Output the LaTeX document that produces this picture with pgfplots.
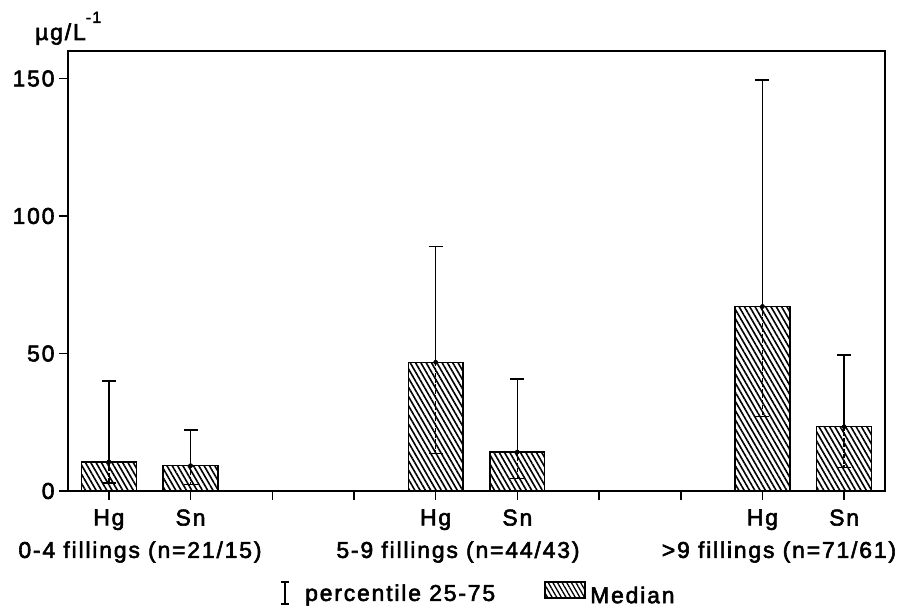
\documentclass[border=0pt]{standalone}
\usepackage{pgfplots}
\usepackage{pgfplotstable}
\pgfplotsset{compat=1.18}
\usepackage{fontspec}
\setmainfont{Liberation Sans}[FakeBold=2.5, LetterSpace=8]
\usetikzlibrary{patterns.meta}
\pgfplotstableread{
x m lo hi
0 10.6 3.0 40.0
1 9.2 2.4 22.2
4 46.8 13.7 88.9
5 14.2 4.6 40.8
8 67.1 27.1 149.4
9 23.4 8.6 49.5
}\datatable
\begin{document}
\begin{tikzpicture}
\path[use as bounding box] (-68bp,-118bp) rectangle (829bp,491bp);
\begin{axis}[
  at={(0,0)}, anchor=south west,
  scale only axis, width=817bp, height=440bp,
  xmin=-0.5, xmax=9.5, ymin=0, ymax=160,
  axis line style={line width=1.5bp},
  xtick={0,...,9}, xticklabels={Hg,Sn,,,Hg,Sn,,,Hg,Sn},
  ytick={0,50,100,150},
  tick align=outside, xtick pos=bottom, ytick pos=left,
  major tick length=9bp,
  tick style={black, line width=1.5bp},
  xticklabel style={font=\fontsize{23}{25}\selectfont, yshift=-6bp},
  yticklabel style={font=\fontsize{23}{25}\selectfont, xshift=-1bp},
  /pgf/number format/assume math mode=true,
  clip=false,
]
\addplot[ybar, bar width=0.67, draw=black, line width=1.4bp,
  pattern={Lines[angle=-60, distance=4.6bp, line width=1.6bp]}]
  table[x=x, y=m] {\datatable};
\addplot[black, only marks, mark=none,
  error bars/.cd, y dir=plus, y explicit, error mark=-,
  error bar style={black, line width=1.6bp, solid},
  error mark options={black, line width=1.6bp, mark size=7bp, rotate=90}]
  table[x=x, y=m, y error plus expr=\thisrow{hi}-\thisrow{m}] {\datatable};
\addplot[black, only marks, mark=none,
  error bars/.cd, y dir=minus, y explicit, error mark=-,
  error bar style={black, line width=1.6bp, dash pattern=on 4bp off 1.5bp},
  error mark options={black, line width=1.6bp, mark size=7bp, solid, rotate=90}]
  table[x=x, y=m, y error minus expr=\thisrow{m}-\thisrow{lo}] {\datatable};
\end{axis}
\begin{scope}[every node/.style={font=\fontsize{23}{25}\selectfont, inner sep=0pt}]
\node[anchor=center] at (72bp,-61bp) {0-4 fillings (n=21/15)};
\node[anchor=center] at (390bp,-61bp) {5-9 fillings (n=44/43)};
\node[anchor=center] at (711bp,-61bp) {>9 fillings (n=71/61)};
\node[anchor=base west] at (-33bp,451bp) {µg/L\raisebox{0.75em}{\fontsize{16}{17}\selectfont -1}};
\draw[line width=1.1bp] (217bp,-113bp) -- (217bp,-91bp)
  (213bp,-113bp) -- (221bp,-113bp) (213bp,-91bp) -- (221bp,-91bp);
\node[anchor=west] at (237bp,-104bp) {percentile 25-75};
\draw[line width=1.2bp, pattern={Lines[angle=-60, distance=4bp, line width=1.3bp]}]
  (477bp,-107bp) rectangle (517bp,-91bp);
\node[anchor=west] at (522bp,-104bp) {Median};
\end{scope}
\end{tikzpicture}
\end{document}
